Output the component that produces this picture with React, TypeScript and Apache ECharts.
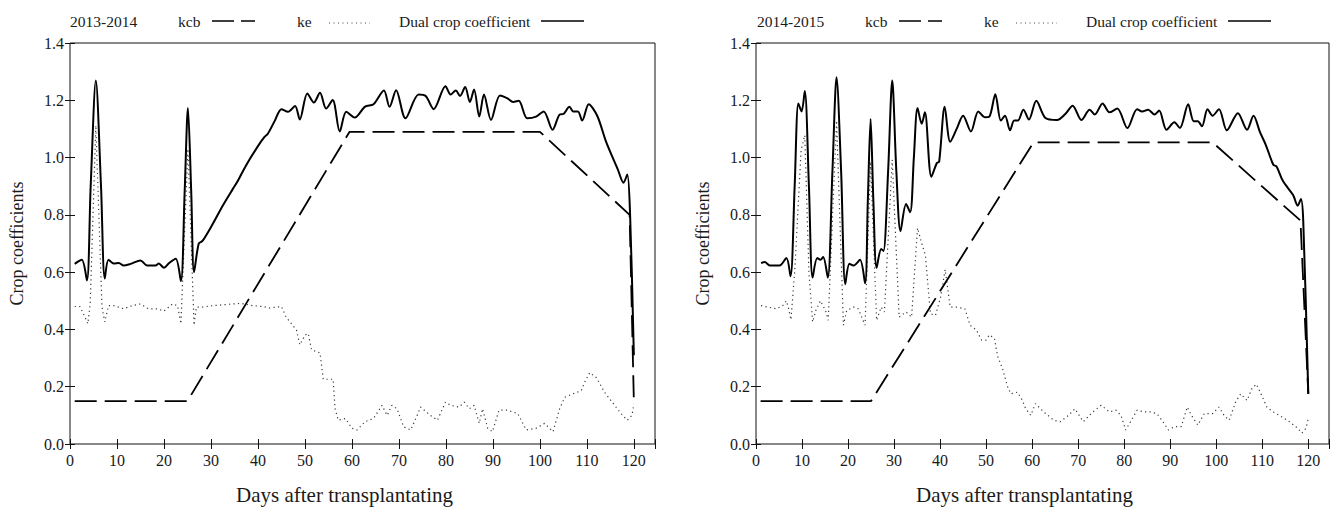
import { useEffect, useRef } from "react";
import * as echarts from "echarts";

// ---------- texts ----------
const SEASON_1 = "2013-2014";
const SEASON_2 = "2014-2015";
const NAME_KCB = "kcb";
const NAME_KE = "ke";
const NAME_DUAL = "Dual crop coefficient";
const X_TITLE = "Days after transplantating";
const Y_TITLE = "Crop coefficients";

// ---------- axes ----------
const X_MIN = 0;
const X_MAX = 124.5;
const X_STEP = 10;
const Y_MIN = 0;
const Y_MAX = 1.4;
const Y_STEP = 0.2;

// ---------- 2013-2014 ----------
const kcbDays13 = [1, 25, 59.5, 100, 119.1, 120];
const kcb13 = [0.15, 0.15, 1.09, 1.09, 0.8, 0.15];

const keDays13 = [
  1, 2.1, 3.2, 3.8, 4.3, 5.5, 6.8, 7.4, 8.2, 9.3, 11.4, 13.2, 15, 16.7, 18.6, 20, 21.8, 22.9, 23.6, 25.1,
  26.4, 26.9, 28.2, 30.4, 32.5, 34.6, 36.4, 38.9, 41, 42.4, 45, 46, 48.2, 48.9, 50, 50.7, 51.4, 53.2, 53.9, 56,
  56.4, 57.1, 58.6, 60, 61.1, 62.8, 64.6, 66.4, 67.5, 68.5, 69.6, 71, 72.5, 73.9, 74.6, 76.7, 78.2, 79.9, 81, 82.8,
  83.9, 85, 86, 87.1, 87.8, 88.9, 89.9, 91.3, 93.1, 95.3, 97.1, 99.2, 101, 102.8, 104.2, 105.3, 107, 108.8, 109.5, 110.6,
  112, 113.8, 115.9, 117.3, 118.6, 119.6, 120,
];
const ke13 = [
  0.48, 0.48, 0.443, 0.42, 0.49, 1.112, 0.48, 0.426, 0.483, 0.483, 0.472, 0.483, 0.489, 0.472, 0.472, 0.464, 0.489, 0.483, 0.42, 1.03,
  0.415, 0.478, 0.478, 0.483, 0.486, 0.489, 0.491, 0.483, 0.48, 0.475, 0.48, 0.443, 0.398, 0.346, 0.38, 0.386, 0.329, 0.318, 0.226, 0.226,
  0.124, 0.083, 0.089, 0.055, 0.049, 0.078, 0.089, 0.135, 0.1, 0.135, 0.123, 0.06, 0.049, 0.1, 0.129, 0.1, 0.083, 0.146, 0.135, 0.129,
  0.146, 0.123, 0.135, 0.072, 0.123, 0.055, 0.043, 0.118, 0.118, 0.106, 0.049, 0.055, 0.072, 0.043, 0.123, 0.163, 0.175, 0.186, 0.215, 0.249,
  0.232, 0.18, 0.135, 0.106, 0.083, 0.1, 0.14,
];

const dualDays13 = [
  1, 2.5, 3.6, 4.4, 5.5, 6.6, 7.4, 8.2, 9.3, 10.4, 11.4, 12.9, 15, 16.4, 18.2, 18.9, 20, 21.1, 22.5, 23.6,
  24.4, 25.1, 25.8, 26.4, 27.4, 28.2, 30.4, 32.5, 34.6, 35.7, 37.4, 40, 41.4, 42.1, 43.6, 45, 46.4, 47.9, 48.9, 50.5,
  51.9, 53.2, 54.5, 55.9, 57.4, 58.8, 60.6, 62.8, 64.6, 66.8, 68, 69.4, 71.4, 74.2, 75.7, 77.4, 79.9, 81, 82.1, 83,
  84.1, 85.1, 86, 87.1, 88.1, 89.6, 91.5, 93.1, 94.3, 95.5, 97.3, 99.2, 100.8, 102.7, 104.2, 105, 106.3, 107.1, 108.1, 109,
  110.4, 112.2, 114.1, 116.6, 117.8, 118.6, 119.2, 120,
];
const dual13 = [
  0.629, 0.643, 0.571, 0.9, 1.269, 0.9, 0.578, 0.643, 0.63, 0.632, 0.623, 0.629, 0.641, 0.623, 0.623, 0.63, 0.615, 0.632, 0.647, 0.569,
  0.88, 1.173, 0.88, 0.6, 0.7, 0.709, 0.769, 0.832, 0.889, 0.918, 0.971, 1.04, 1.072, 1.083, 1.129, 1.169, 1.16, 1.18, 1.133, 1.224,
  1.192, 1.226, 1.171, 1.201, 1.091, 1.16, 1.14, 1.178, 1.186, 1.234, 1.177, 1.235, 1.137, 1.22, 1.215, 1.169, 1.249, 1.22, 1.234, 1.215,
  1.246, 1.194, 1.238, 1.143, 1.22, 1.131, 1.217, 1.207, 1.194, 1.198, 1.137, 1.143, 1.161, 1.097, 1.15, 1.152, 1.177, 1.161, 1.161, 1.129,
  1.186, 1.146, 1.055, 0.958, 0.912, 0.941, 0.8, 0.31,
];

// ---------- 2014-2015 ----------
const kcbDays14 = [1, 25, 60.3, 99.2, 118.3, 120];
const kcb14 = [0.15, 0.15, 1.053, 1.053, 0.78, 0.175];

const keDays14 = [
  1.1, 2.6, 4.4, 5.8, 6.6, 7.1, 7.6, 8.4, 9.8, 10.6, 11.5, 12.3, 13, 14, 15.1, 15.7, 17.5, 19, 19.7, 21.2,
  22.2, 23.7, 24.9, 26.2, 27.2, 27.9, 29.6, 31.1, 32.6, 33.8, 35.1, 36.1, 36.8, 37.9, 39, 40.1, 41.1, 42.2, 43.6, 45.4,
  46.5, 47.9, 49, 50, 50.7, 51.8, 52.5, 53.6, 54.7, 55.4, 56.8, 57.9, 58.6, 59.7, 60.7, 62.5, 64.7, 66.1, 67.9, 69.3,
  71.1, 73.2, 75, 76.8, 78.2, 79.3, 80.3, 81.4, 82.8, 84.2, 85.7, 87.1, 88.2, 89.6, 91, 92.4, 93.7, 94.6, 96, 97.4,
  99.2, 100.6, 101.7, 102.8, 104.2, 105.3, 106.7, 107.7, 108.7, 109.9, 111, 112.4, 114.2, 115.9, 117.7, 118.6, 119.5, 120,
];
const ke14 = [
  0.483, 0.478, 0.472, 0.483, 0.5, 0.472, 0.434, 0.6, 1.026, 1.078, 0.6, 0.426, 0.466, 0.5, 0.466, 0.432, 1.129, 0.415, 0.466, 0.478,
  0.472, 0.415, 0.986, 0.432, 0.478, 0.461, 0.992, 0.443, 0.461, 0.443, 0.754, 0.695, 0.66, 0.455, 0.449, 0.512, 0.609, 0.478, 0.478, 0.472,
  0.415, 0.398, 0.363, 0.363, 0.381, 0.369, 0.306, 0.261, 0.198, 0.175, 0.181, 0.152, 0.123, 0.1, 0.141, 0.112, 0.083, 0.078, 0.1, 0.123,
  0.078, 0.112, 0.135, 0.112, 0.118, 0.1, 0.049, 0.078, 0.118, 0.112, 0.112, 0.106, 0.083, 0.049, 0.061, 0.061, 0.129, 0.1, 0.066, 0.106,
  0.106, 0.129, 0.1, 0.083, 0.146, 0.175, 0.152, 0.192, 0.209, 0.169, 0.129, 0.112, 0.095, 0.078, 0.055, 0.038, 0.055, 0.089,
];

const dualDays14 = [
  1.1, 1.9, 3, 5.1, 6.6, 7.5, 8.4, 9.2, 9.9, 10.6, 11.5, 12.3, 13.3, 14, 14.6, 15.6, 16.6, 17.5, 18.5, 19.4,
  20.3, 21.2, 22.6, 23.7, 24.3, 24.9, 25.5, 26.2, 27.2, 27.7, 28.7, 29.6, 30.5, 31.4, 32.6, 33.5, 34.3, 35.1, 36, 36.7,
  38.1, 39.3, 39.8, 41, 42.2, 43.6, 45, 46.7, 48.3, 49.7, 50.7, 52, 53.2, 54.1, 55.2, 56.1, 56.9, 58.1, 59.3, 60.9,
  62.9, 65.4, 67.2, 68.8, 70.7, 72.5, 73.6, 75.3, 76.8, 78.5, 80.7, 82.8, 83.9, 85.2, 86.6, 87.6, 89.2, 90.9, 92.1, 93.9,
  95.1, 96, 96.9, 98.1, 99.2, 100.6, 102.3, 104.7, 106.7, 108.1, 109.5, 110.8, 112.4, 113.1, 114.5, 116.7, 117.7, 118.4, 118.9, 120,
];
const dual14 = [
  0.632, 0.635, 0.623, 0.623, 0.649, 0.586, 0.9, 1.189, 1.161, 1.232, 0.9, 0.581, 0.649, 0.643, 0.653, 0.581, 0.95, 1.28, 0.95, 0.558,
  0.629, 0.623, 0.643, 0.561, 0.85, 1.135, 0.85, 0.615, 0.681, 0.674, 0.95, 1.269, 0.95, 0.743, 0.838, 0.809, 1.0, 1.173, 1.118, 1.158,
  0.933, 0.981, 0.986, 1.177, 1.055, 1.1, 1.146, 1.091, 1.161, 1.141, 1.143, 1.221, 1.129, 1.146, 1.095, 1.129, 1.129, 1.167, 1.133, 1.198,
  1.138, 1.131, 1.152, 1.181, 1.131, 1.167, 1.15, 1.189, 1.158, 1.171, 1.103, 1.169, 1.161, 1.167, 1.15, 1.164, 1.097, 1.123, 1.103, 1.186,
  1.127, 1.127, 1.109, 1.169, 1.146, 1.169, 1.095, 1.155, 1.097, 1.146, 1.089, 1.043, 0.975, 0.969, 0.918, 0.869, 0.832, 0.855, 0.78, 0.175,
];

// ---------- style ----------
const FONT = '"Liberation Serif", "Times New Roman", serif';
const TEXT_COLOR = "#1a1a1a";

const zip = (xs: number[], ys: number[]) => xs.map((x, i) => [x, ys[i]]);

function legendGraphics(x0: number, season: string) {
  const y = 21;
  const font = `15.5px ${FONT}`;
  const txt = (x: number, text: string) => ({
    type: "text",
    x,
    y,
    style: { text, font, fill: TEXT_COLOR, verticalAlign: "middle", align: "left" },
  });
  return [
    txt(x0, season),
    txt(x0 + 108, NAME_KCB),
    {
      type: "line",
      shape: { x1: x0 + 142, y1: y, x2: x0 + 185, y2: y },
      style: { stroke: "#000", lineWidth: 1.5, lineDash: [22, 7] },
    },
    txt(x0 + 227, NAME_KE),
    {
      type: "line",
      shape: { x1: x0 + 259, y1: y + 2, x2: x0 + 300, y2: y + 2 },
      style: { stroke: "#444", lineWidth: 1, lineDash: [1, 3.5] },
    },
    txt(x0 + 329, NAME_DUAL),
    {
      type: "line",
      shape: { x1: x0 + 471, y1: y, x2: x0 + 514, y2: y },
      style: { stroke: "#000", lineWidth: 1.5 },
    },
  ];
}

function xAxisPair(gridIndex: number) {
  const base = {
    type: "value",
    gridIndex,
    min: X_MIN,
    max: X_MAX,
    interval: X_STEP,
    splitLine: { show: false },
    axisLine: { show: false },
    axisTick: { show: true, inside: true, length: 5, lineStyle: { color: "#111", width: 1 } },
  };
  return [
    {
      ...base,
      position: "bottom",
      name: X_TITLE,
      nameLocation: "middle",
      nameGap: 40,
      nameTextStyle: { fontFamily: FONT, fontSize: 21, color: TEXT_COLOR, padding: [0, 36, 0, 0] },
      axisLabel: {
        show: true,
        margin: 8,
        fontFamily: FONT,
        fontSize: 16,
        color: TEXT_COLOR,
        formatter: (v: number) => (Math.abs(v % X_STEP) < 1e-9 ? String(v) : ""),
      },
    },
    { ...base, position: "top", axisLabel: { show: false } },
  ];
}

function yAxisPair(gridIndex: number) {
  const base = {
    type: "value",
    gridIndex,
    min: Y_MIN,
    max: Y_MAX,
    interval: Y_STEP,
    splitLine: { show: false },
    axisLine: { show: false },
    axisTick: { show: true, inside: true, length: 5, lineStyle: { color: "#111", width: 1 } },
  };
  return [
    {
      ...base,
      position: "left",
      name: Y_TITLE,
      nameLocation: "middle",
      nameGap: 44,
      nameTextStyle: { fontFamily: FONT, fontSize: 18, color: TEXT_COLOR },
      axisLabel: {
        show: true,
        margin: 6,
        fontFamily: FONT,
        fontSize: 16,
        color: TEXT_COLOR,
        formatter: (v: number) => v.toFixed(1),
      },
    },
    { ...base, position: "right", axisLabel: { show: false } },
  ];
}

function panelSeries(
  axisIdx: number,
  season: string,
  kcbD: number[],
  kcbV: number[],
  keD: number[],
  keV: number[],
  dualD: number[],
  dualV: number[]
) {
  const common = { xAxisIndex: axisIdx, yAxisIndex: axisIdx, type: "line", showSymbol: false, symbol: "none", silent: true };
  return [
    {
      ...common,
      name: `${NAME_KE} ${season}`,
      data: zip(keD, keV),
      lineStyle: { color: "#3a3a3a", width: 1.2, type: [1.2, 3.3] },
      z: 2,
    },
    {
      ...common,
      name: `${NAME_KCB} ${season}`,
      data: zip(kcbD, kcbV),
      lineStyle: { color: "#000", width: 1.8, type: [22, 8] },
      z: 3,
    },
    {
      ...common,
      name: `${NAME_DUAL} ${season}`,
      data: zip(dualD, dualV),
      smooth: 0.3,
      lineStyle: { color: "#000", width: 2 },
      z: 4,
    },
  ];
}

export default function App() {
  const ref = useRef<HTMLDivElement>(null);
  useEffect(() => {
    if (!ref.current) return;
    const chart = echarts.init(ref.current, undefined, { renderer: "svg" });
    const gridStyle = { show: true, borderColor: "#111", borderWidth: 1, backgroundColor: "transparent" };
    chart.setOption({
      animation: false,
      backgroundColor: "#fff",
      grid: [
        { ...gridStyle, left: 70, top: 43, width: 585, height: 406 },
        { ...gridStyle, left: 756, top: 43, width: 585, height: 406 },
      ],
      xAxis: [...xAxisPair(0), ...xAxisPair(1)],
      yAxis: [...yAxisPair(0), ...yAxisPair(1)],
      series: [
        ...panelSeries(0, SEASON_1, kcbDays13, kcb13, keDays13, ke13, dualDays13, dual13),
        ...panelSeries(2, SEASON_2, kcbDays14, kcb14, keDays14, ke14, dualDays14, dual14),
      ],
      graphic: [...legendGraphics(70, SEASON_1), ...legendGraphics(757, SEASON_2)],
    });
    return () => chart.dispose();
  }, []);
  return (
    <div
      ref={ref}
      style={{ position: "absolute", left: 0, top: 0, width: 1332, height: 510 }}
    />
  );
}
